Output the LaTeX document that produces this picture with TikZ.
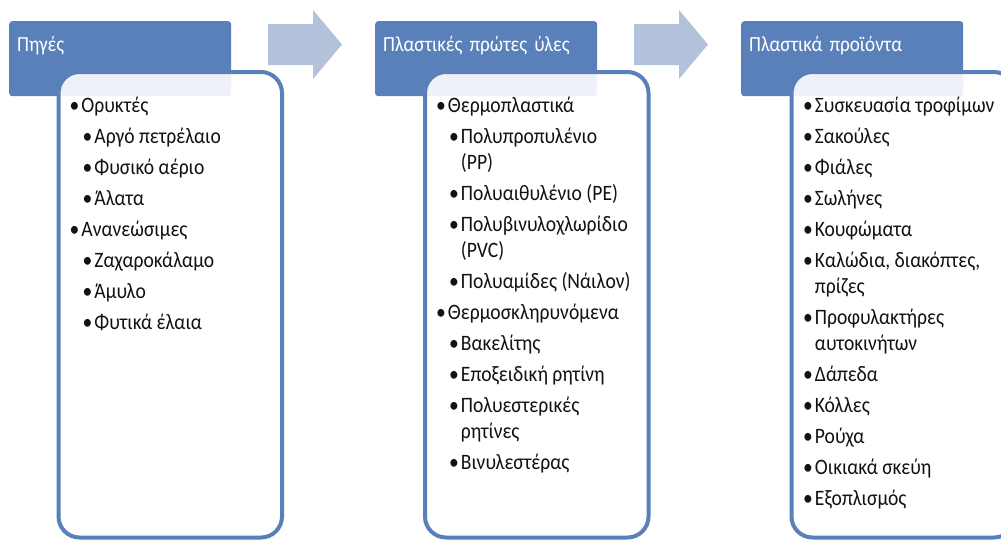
\documentclass[tikz,border=0pt]{standalone}
\usepackage{fontspec}
\setmainfont{Carlito}[FakeStretch=0.89]
\usetikzlibrary{positioning}

\definecolor{hdblue}{HTML}{5A80B9}
\definecolor{arblue}{HTML}{B4C1DB}

% bullets of the lists
\newcommand{\pnt}{\textbullet\kern2pt}
\newcommand{\subpnt}{\hspace*{13pt}\textbullet\kern2pt}
\newcommand{\subcont}{\hspace*{13pt}\hphantom{\pnt}}

\begin{document}
\begin{tikzpicture}[x=1pt, y=-1pt, inner sep=0pt]
    \tikzstyle{head}=[rectangle, rounded corners=3pt, fill=hdblue, text=white, anchor=north west,
        minimum width=222pt, minimum height=75pt, text width=206pt, align=left,
        text height=16pt, text depth=30pt, font=\fontsize{21.5}{26}\selectfont]
    \tikzstyle{panel}=[rectangle, rounded corners=21pt, draw=hdblue, line width=4pt, fill=white,
        fill opacity=0.9, anchor=north west, minimum width=223.5pt, minimum height=465.5pt]
    \tikzstyle{list}=[anchor=north west, align=left, text=black!93, font=\fontsize{22}{26}\selectfont]
    \tikzstyle{flow}=[fill=arblue]

    \useasboundingbox[clip] (0,0) rectangle (1001,539);

    \node[head] (H1) at (9,21) {Πηγές};
    \node[head] (H2) at (375,21) {Πλαστικές πρώτες ύλες};
    \node[head] (H3) at (741,21) {Πλαστικά προϊόντα};

    \node[panel] (P1) at (56.5,70) {};
    \node[panel] (P2) at (423,70) {};
    \node[panel] (P3) at (789.5,70) {};

    \foreach \ax in {268,634}
        \fill[flow] (\ax,24) -- ++(45,0) -- ++(0,-14) -- ++(29,34.5) -- ++(-29,34.5)
            -- ++(0,-14) -- ++(-45,0) -- cycle;

    \node[list] (L1) at ([xshift=13pt, yshift=-27pt] P1.north west) {%
        \pnt Ορυκτές\\[5pt]
        \subpnt Αργό πετρέλαιο\\[5pt]
        \subpnt Φυσικό αέριο\\[5pt]
        \subpnt Άλατα\\[5pt]
        \pnt Ανανεώσιμες\\[5pt]
        \subpnt Ζαχαροκάλαμο\\[5pt]
        \subpnt Άμυλο\\[5pt]
        \subpnt Φυτικά έλαια};

    \node[list] (L2) at ([xshift=13pt, yshift=-27pt] P2.north west) {%
        \pnt Θερμοπλαστικά\\[5pt]
        \subpnt Πολυπροπυλένιο\\
        \subcont (PP)\\[5pt]
        \subpnt Πολυαιθυλένιο (PE)\\[5pt]
        \subpnt Πολυβινυλοχλωρίδιο\\
        \subcont (PVC)\\[5pt]
        \subpnt Πολυαμίδες (Νάιλον)\\[5pt]
        \pnt Θερμοσκληρυνόμενα\\[5pt]
        \subpnt Βακελίτης\\[5pt]
        \subpnt Εποξειδική ρητίνη\\[5pt]
        \subpnt Πολυεστερικές\\
        \subcont ρητίνες\\[5pt]
        \subpnt Βινυλεστέρας};

    \node[list] (L3) at ([xshift=13.5pt, yshift=-27pt] P3.north west) {%
        \pnt Συσκευασία τροφίμων\\[5pt]
        \pnt Σακούλες\\[5pt]
        \pnt Φιάλες\\[5pt]
        \pnt Σωλήνες\\[5pt]
        \pnt Κουφώματα\\[5pt]
        \pnt Καλώδια, διακόπτες,\\
        \hphantom{\pnt}πρίζες\\[5pt]
        \pnt Προφυλακτήρες\\
        \hphantom{\pnt}αυτοκινήτων\\[5pt]
        \pnt Δάπεδα\\[5pt]
        \pnt Κόλλες\\[5pt]
        \pnt Ρούχα\\[5pt]
        \pnt Οικιακά σκεύη\\[5pt]
        \pnt Εξοπλισμός};
\end{tikzpicture}
\end{document}
